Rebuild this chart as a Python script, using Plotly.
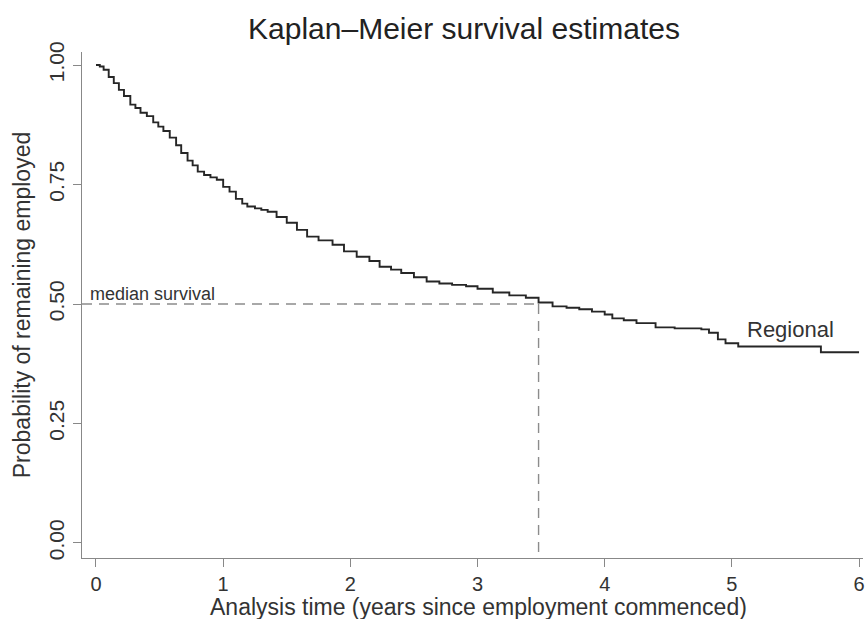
import plotly.graph_objects as go

# Kaplan-Meier estimate
time_years = [0, 0.03, 0.06, 0.1, 0.14, 0.18, 0.22, 0.27, 0.31, 0.35, 0.4, 0.45, 0.49, 0.53,
              0.58, 0.63, 0.67, 0.72, 0.76, 0.8, 0.85, 0.9, 0.95, 1.0, 1.05, 1.1, 1.15, 1.19,
              1.25, 1.3, 1.35, 1.42, 1.5, 1.58, 1.66, 1.75, 1.86, 1.95, 2.05, 2.15, 2.23, 2.32,
              2.4, 2.5, 2.6, 2.7, 2.8, 2.91, 3.0, 3.12, 3.25, 3.38, 3.48, 3.59, 3.7, 3.8, 3.9,
              4.0, 4.06, 4.15, 4.25, 4.4, 4.55, 4.76, 4.82, 4.89, 4.95, 5.05, 5.6, 5.70, 6.0]
survival = [1.0, 0.997, 0.99, 0.975, 0.962, 0.948, 0.935, 0.917, 0.91, 0.9, 0.893, 0.88, 0.871,
            0.862, 0.848, 0.832, 0.816, 0.80, 0.79, 0.777, 0.77, 0.765, 0.76, 0.745, 0.735, 0.72,
            0.71, 0.704, 0.70, 0.697, 0.693, 0.682, 0.67, 0.655, 0.641, 0.633, 0.624, 0.61, 0.599,
            0.59, 0.578, 0.572, 0.565, 0.556, 0.547, 0.543, 0.54, 0.537, 0.532, 0.524, 0.518,
            0.513, 0.503, 0.495, 0.492, 0.489, 0.484, 0.478, 0.470, 0.466, 0.46, 0.451, 0.449,
            0.447, 0.44, 0.426, 0.418, 0.411, 0.411, 0.399, 0.399]
median_time = 3.48
median_prob = 0.5
x_ticks = [0, 1, 2, 3, 4, 5, 6]
y_ticks = [0.0, 0.25, 0.5, 0.75, 1.0]
y_tick_labels = ["0.00", "0.25", "0.50", "0.75", "1.00"]

FONT = "Liberation Sans, Arial, sans-serif"
x_range = [-0.11, 6.031]
y_range = [-0.0314, 1.0272]

fig = go.Figure()
fig.add_trace(go.Scatter(x=time_years, y=survival, mode="lines", line_shape="hv",
                         line=dict(color="#262626", width=1.9), showlegend=False,
                         hoverinfo="skip"))

# median survival dashed lines
dash_style = dict(color="#8c8c8c", width=1.4, dash="10px,7px")
fig.add_trace(go.Scatter(x=[x_range[0], median_time], y=[median_prob, median_prob], mode="lines",
                         line=dash_style, showlegend=False, hoverinfo="skip"))
fig.add_trace(go.Scatter(x=[median_time, median_time], y=[median_prob, y_range[0]], mode="lines",
                         line=dash_style, showlegend=False, hoverinfo="skip"))

fig.add_annotation(x=-0.065, y=median_prob, text="median survival", showarrow=False,
                   xanchor="left", yanchor="bottom", yshift=-2,
                   font=dict(family=FONT, size=18, color="#333"))
fig.add_annotation(x=5.1, y=0.411, text="Regional", showarrow=False,
                   xanchor="left", yanchor="bottom", yshift=3,
                   font=dict(family=FONT, size=22, color="#333"))
# x-axis title placed explicitly below the tick labels
fig.add_annotation(x=(480 - 82) / 783, xref="paper", y=-(607 - 558) / 506, yref="paper",
                   text="Analysis time (years since employment commenced)", showarrow=False,
                   xanchor="center", yanchor="middle",
                   font=dict(family=FONT, size=23, color="#333"))

fig.update_layout(
    width=865, height=619,
    margin=dict(l=82, r=0, t=52, b=61),
    paper_bgcolor="white", plot_bgcolor="white",
    font=dict(family=FONT, color="#333"),
    title=dict(text="Kaplan–Meier survival estimates", x=464 / 865, xanchor="center",
               xref="container", y=1 - 28 / 619, yanchor="middle", yref="container",
               font=dict(family=FONT, size=30, color="#222")),
    xaxis=dict(range=x_range, tickvals=x_ticks, showgrid=False, zeroline=False,
               showline=True, linecolor="#888", linewidth=1.3,
               ticks="outside", ticklen=8, tickcolor="#888", tickwidth=1.3,
               ticklabeloverflow="allow",
               tickfont=dict(size=20, color="#333")),
    yaxis=dict(range=y_range, tickvals=y_ticks, ticktext=y_tick_labels, tickangle=-90,
               showgrid=False, zeroline=False,
               showline=True, linecolor="#888", linewidth=1.3,
               ticks="outside", ticklen=8, tickcolor="#888", tickwidth=1.3,
               tickfont=dict(size=21, color="#333"),
               title=dict(text="Probability of remaining employed",
                          font=dict(size=23, color="#333"), standoff=8)),
)

fig.write_html("out.html")
